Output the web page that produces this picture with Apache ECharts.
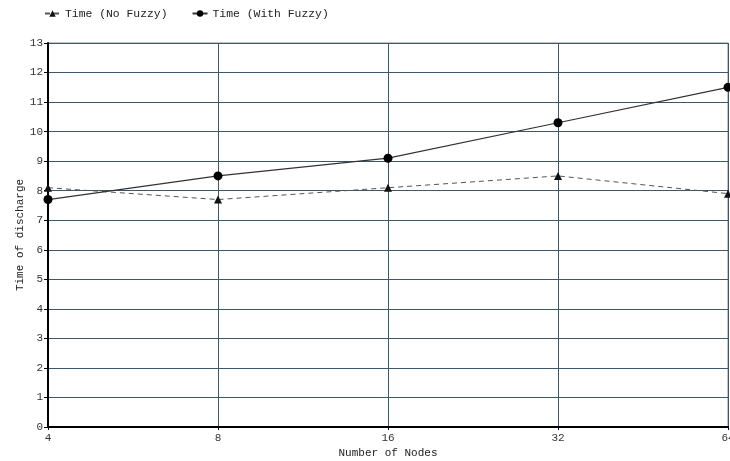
<!DOCTYPE html>
<html><head><meta charset="utf-8">
<script src="https://cdn.jsdelivr.net/npm/echarts@6/dist/echarts.min.js"></script>
<style>html,body{margin:0;padding:0;background:#fff}#c{width:730px;height:461px}</style>
</head><body><div id="c"></div>
<script>
const categories = ['4', '8', '16', '32', '64'];
const noFuzzy = [8.1, 7.7, 8.1, 8.5, 7.9];
const withFuzzy = [7.7, 8.5, 9.1, 10.3, 11.5];
const yTicks = [0, 13, 1];
const font = '"Liberation Mono", "DejaVu Sans Mono", monospace';
const chart = echarts.init(document.getElementById('c'), null, {renderer: 'canvas'});
chart.setOption({
  animation: false,
  backgroundColor: '#fff',
  textStyle: {fontFamily: font},
  legend: {
    left: 39, top: 3, itemWidth: 15, itemHeight: 8, itemGap: 24,
    textStyle: {fontFamily: font, fontSize: 11.4, color: '#222'},
    data: ['Time (No Fuzzy)', 'Time (With Fuzzy)']
  },
  grid: {left: 48, right: 2, top: 43, bottom: 34, show: true, borderColor: '#888', borderWidth: 1, outerBoundsMode: 'none', containLabel: false},
  xAxis: {
    type: 'category', data: categories, boundaryGap: false,
    name: 'Number of Nodes', nameLocation: 'middle', nameGap: 21, nameMoveOverlap: false,
    nameTextStyle: {fontFamily: font, fontSize: 11, color: '#222'},
    axisLine: {lineStyle: {color: '#000', width: 2}},
    axisTick: {show: true, length: 3, alignWithLabel: true, lineStyle: {color: '#000'}},
    axisLabel: {fontFamily: font, fontSize: 11, color: '#333', margin: 6, hideOverlap: false},
    splitLine: {show: true, lineStyle: {color: '#3d5868', width: 1}}
  },
  yAxis: {
    type: 'value', min: yTicks[0], max: yTicks[1], interval: yTicks[2],
    name: 'Time of discharge', nameLocation: 'middle', nameGap: 22, nameRotate: 90, nameMoveOverlap: false,
    nameTextStyle: {fontFamily: font, fontSize: 11, color: '#222'},
    axisLine: {show: true, lineStyle: {color: '#000', width: 2}},
    axisTick: {show: true, length: 4, lineStyle: {color: '#000'}},
    axisLabel: {fontFamily: font, fontSize: 11, color: '#333', margin: 5},
    splitLine: {show: true, lineStyle: {color: '#3d5868', width: 1}}
  },
  series: [
    {
      name: 'Time (No Fuzzy)', type: 'line', data: noFuzzy,
      symbol: 'triangle', symbolSize: 8,
      itemStyle: {color: '#111'},
      lineStyle: {color: '#555', width: 1, type: [5, 4]}
    },
    {
      name: 'Time (With Fuzzy)', type: 'line', data: withFuzzy,
      symbol: 'circle', symbolSize: 9,
      itemStyle: {color: '#000'},
      lineStyle: {color: '#333', width: 1.2}
    }
  ]
});
</script></body></html>
